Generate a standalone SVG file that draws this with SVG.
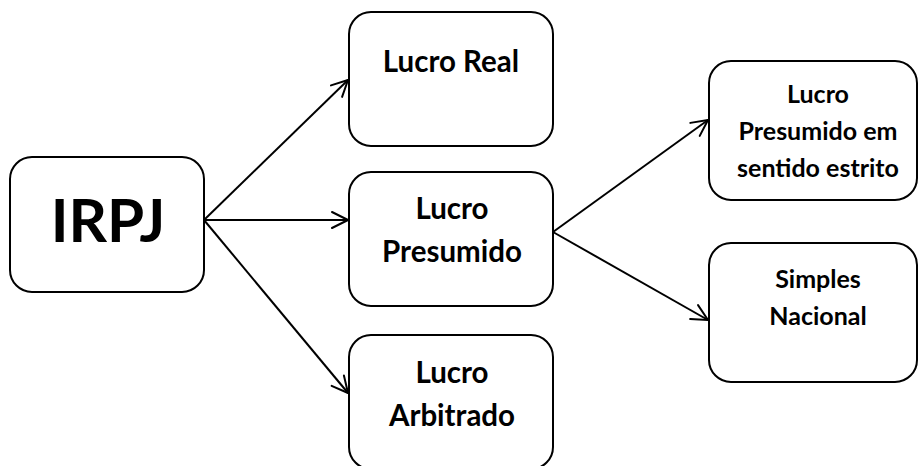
<svg xmlns="http://www.w3.org/2000/svg" width="918" height="466" viewBox="0 0 918 466">
<style>
.box{fill:#fff;stroke:#000;stroke-width:2}
.t{font-family:Lato,"Open Sans","Liberation Sans",sans-serif;font-weight:bold;fill:#000;text-anchor:middle}
.edge{stroke:#000;stroke-width:2;fill:none}
</style>
<defs>
<marker id="arr" markerUnits="userSpaceOnUse" markerWidth="22" markerHeight="22" viewBox="0 0 22 22" refX="18" refY="11" orient="auto">
<path d="M2,3 L18,11 L2,19" fill="none" stroke="#000" stroke-width="2" stroke-linecap="round" stroke-linejoin="round"/>
</marker>
</defs>
<g id="connectors">
<line class="edge" x1="204" y1="220" x2="348" y2="80" marker-end="url(#arr)"/>
<line class="edge" x1="204" y1="220" x2="348" y2="220" marker-end="url(#arr)"/>
<line class="edge" x1="204" y1="220" x2="348" y2="393" marker-end="url(#arr)"/>
<line class="edge" x1="553" y1="232" x2="708" y2="120" marker-end="url(#arr)"/>
<line class="edge" x1="553" y1="232" x2="708" y2="320" marker-end="url(#arr)"/>
</g>
<g id="irpj">
<rect class="box" x="10" y="157" width="194" height="135" rx="22"/>
<text class="t" x="108" y="242" font-size="60">IRPJ</text>
</g>
<g id="lucro-real">
<rect class="box" x="349" y="12" width="204" height="134" rx="22"/>
<text class="t" x="451" y="72" font-size="29.5">Lucro Real</text>
</g>
<g id="lucro-presumido">
<rect class="box" x="349" y="172" width="204" height="134" rx="22"/>
<text class="t" x="452" y="219" font-size="29.5">Lucro</text>
<text class="t" x="452" y="262" font-size="29.5">Presumido</text>
</g>
<g id="lucro-arbitrado">
<rect class="box" x="349" y="335" width="204" height="134" rx="22"/>
<text class="t" x="452" y="383" font-size="29.5">Lucro</text>
<text class="t" x="452" y="426" font-size="29.5">Arbitrado</text>
</g>
<g id="presumido-estrito">
<rect class="box" x="709" y="61" width="208" height="139" rx="22"/>
<text class="t" x="818" y="103" font-size="25">Lucro</text>
<text class="t" x="818" y="140" font-size="25">Presumido em</text>
<text class="t" x="818" y="177" font-size="25">sentido estrito</text>
</g>
<g id="simples-nacional">
<rect class="box" x="709" y="243" width="208" height="139" rx="22"/>
<text class="t" x="818" y="288" font-size="25">Simples</text>
<text class="t" x="818" y="325" font-size="25">Nacional</text>
</g>
</svg>
